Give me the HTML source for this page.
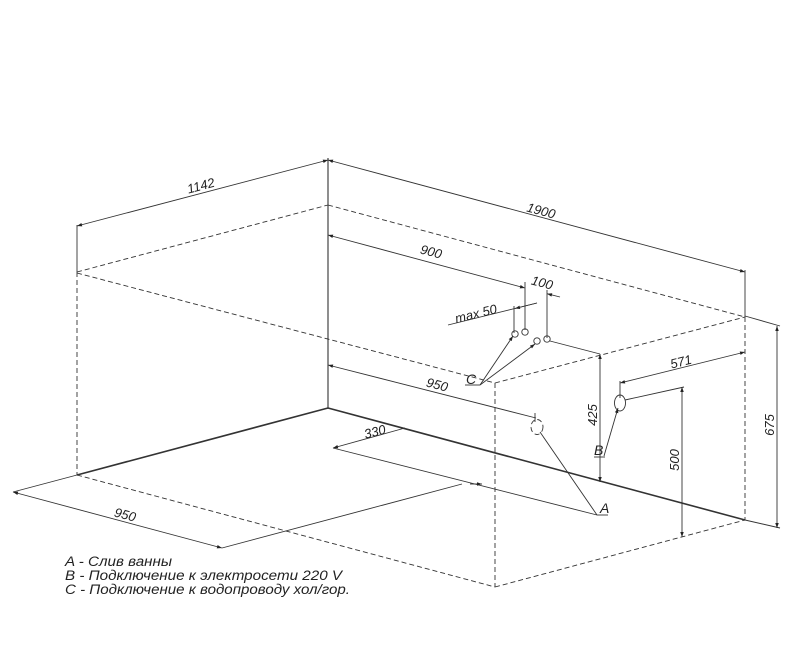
<!DOCTYPE html>
<html><head><meta charset="utf-8"><style>
html,body{margin:0;padding:0;background:#fff;}
svg{display:block;}
text{font-family:"Liberation Sans",sans-serif;font-style:italic;fill:#222;}
</style></head><body>
<svg width="791" height="665" viewBox="0 0 791 665" xmlns="http://www.w3.org/2000/svg">
<defs>
<marker id="a" viewBox="0 0 10 10" refX="10" refY="5" markerWidth="7" markerHeight="5" orient="auto-start-reverse" markerUnits="userSpaceOnUse"><path d="M0,1.5 L10,5 L0,8.5z" fill="#222"/></marker>
</defs>
<g stroke="#333" stroke-width="0.9" fill="none">
<g stroke-dasharray="5,3">
<line x1="77" y1="272" x2="77" y2="475"/>
<line x1="77" y1="272" x2="328" y2="205"/>
<line x1="328" y1="205" x2="745" y2="317"/>
<line x1="77" y1="273" x2="495" y2="383"/>
<line x1="495" y1="383" x2="745" y2="317"/>
<line x1="495" y1="383" x2="495" y2="587"/>
<line x1="495" y1="587" x2="745" y2="520"/>
<line x1="745" y1="317" x2="745" y2="520"/>
<line x1="77" y1="475" x2="495" y2="587"/>
<ellipse cx="537" cy="427" rx="6" ry="7.5"/>
</g>
<line x1="328" y1="158" x2="328" y2="408" stroke-width="1.1"/>
<line x1="328" y1="408" x2="77" y2="475" stroke-width="1.6"/>
<line x1="328" y1="408" x2="745" y2="520" stroke-width="1.6"/>
<line x1="77" y1="225" x2="77" y2="272"/>
<line x1="745" y1="270" x2="745" y2="317"/>
<line x1="77" y1="226" x2="328" y2="160" marker-start="url(#a)" marker-end="url(#a)"/>
<line x1="328" y1="160" x2="745" y2="272" marker-start="url(#a)" marker-end="url(#a)"/>
<line x1="328" y1="235" x2="525" y2="288" marker-start="url(#a)" marker-end="url(#a)"/>
<line x1="560" y1="297" x2="547" y2="293.7" marker-end="url(#a)"/>
<line x1="525" y1="282" x2="525" y2="330"/>
<line x1="547" y1="290" x2="547" y2="338"/>
<line x1="448" y1="325" x2="537" y2="303"/>
<line x1="537" y1="303" x2="515" y2="308.5" marker-end="url(#a)"/>
<line x1="514" y1="306" x2="514" y2="333"/>
<circle cx="515" cy="334" r="3.2"/><circle cx="525" cy="332" r="3.2"/>
<circle cx="537" cy="341" r="3.2"/><circle cx="547" cy="339" r="3.2"/>
<line x1="480" y1="385" x2="513" y2="336" marker-end="url(#a)"/>
<line x1="480" y1="385" x2="535" y2="344" marker-end="url(#a)"/>
<line x1="465" y1="385" x2="480" y2="385"/>
<line x1="550" y1="341" x2="600" y2="354"/>
<line x1="600" y1="354" x2="600" y2="482" marker-start="url(#a)" marker-end="url(#a)"/>
<line x1="328" y1="365" x2="536" y2="418" marker-start="url(#a)"/>
<line x1="535" y1="413" x2="535" y2="422"/>
<line x1="540" y1="432" x2="597" y2="515"/>
<line x1="597" y1="515" x2="608" y2="515"/>
<line x1="333" y1="448" x2="405" y2="428" marker-start="url(#a)"/>
<line x1="333" y1="448" x2="597" y2="515"/>
<line x1="13" y1="492" x2="222" y2="548" marker-start="url(#a)" marker-end="url(#a)"/>
<line x1="13" y1="492" x2="77" y2="475"/>
<line x1="222" y1="548" x2="462" y2="484"/>
<line x1="470" y1="484" x2="482" y2="484" marker-end="url(#a)"/>
<ellipse cx="620" cy="403" rx="5.5" ry="8"/>
<line x1="604" y1="456" x2="618" y2="408" marker-end="url(#a)"/>
<line x1="594" y1="457" x2="605" y2="457"/>
<line x1="620" y1="383" x2="745" y2="352" marker-start="url(#a)" marker-end="url(#a)"/>
<line x1="620" y1="381" x2="620" y2="398"/>
<line x1="625" y1="400" x2="684" y2="387"/>
<line x1="682" y1="387" x2="682" y2="537" marker-start="url(#a)" marker-end="url(#a)"/>
<line x1="745" y1="316" x2="780" y2="326"/>
<line x1="745" y1="520" x2="780" y2="528"/>
<line x1="777" y1="326" x2="777" y2="528" marker-start="url(#a)" marker-end="url(#a)"/>
</g>
<g font-size="13">
<text x="202" y="190" transform="rotate(-15 202 190)" text-anchor="middle">1142</text>
<text x="540" y="215" transform="rotate(15 540 215)" text-anchor="middle">1900</text>
<text x="430" y="256" transform="rotate(15 430 256)" text-anchor="middle">900</text>
<text x="541" y="287" transform="rotate(15 541 287)" text-anchor="middle">100</text>
<text x="477" y="318" transform="rotate(-14 477 318)" text-anchor="middle">max 50</text>
<text x="436" y="389" transform="rotate(15 436 389)" text-anchor="middle">950</text>
<text x="376" y="436" transform="rotate(-15 376 436)" text-anchor="middle">330</text>
<text x="124" y="519" transform="rotate(15 124 519)" text-anchor="middle">950</text>
<text x="682" y="366" transform="rotate(-14 682 366)" text-anchor="middle">571</text>
<text x="597" y="415" transform="rotate(-90 597 415)" text-anchor="middle">425</text>
<text x="679" y="460" transform="rotate(-90 679 460)" text-anchor="middle">500</text>
<text x="774" y="425" transform="rotate(-90 774 425)" text-anchor="middle">675</text>
<text x="466" y="384" font-size="14">C</text>
<text x="594" y="455" font-size="14">B</text>
<text x="600" y="513" font-size="14">A</text>
</g>
<g font-size="13.5">
<text x="65" y="566" textLength="107" lengthAdjust="spacingAndGlyphs">A - Слив ванны</text>
<text x="65" y="580" textLength="277" lengthAdjust="spacingAndGlyphs">B - Подключение к электросети 220 V</text>
<text x="65" y="594" textLength="285" lengthAdjust="spacingAndGlyphs">C - Подключение к водопроводу хол/гор.</text>
</g>
</svg>
</body></html>
